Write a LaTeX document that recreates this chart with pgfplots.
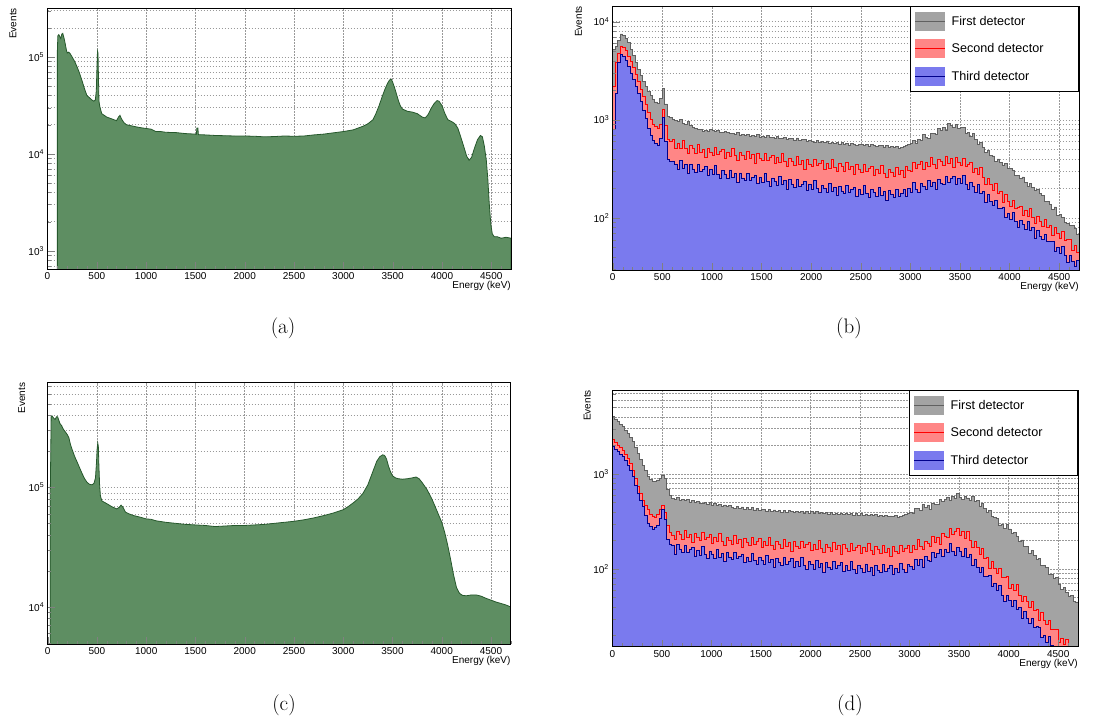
\documentclass[border=0pt]{standalone}
\usepackage{fontspec}
\usepackage{pgfplots}
\usepackage{pgfplotstable}
\pgfplotsset{compat=1.18}
\newfontfamily\helv{Liberation Sans}

\definecolor{gfill}{RGB}{94,142,98}
\definecolor{gline}{RGB}{38,88,44}
\definecolor{grayfill}{RGB}{163,163,163}
\definecolor{grayline}{RGB}{96,96,96}
\definecolor{redfill}{RGB}{255,134,134}
\definecolor{redline}{RGB}{255,0,0}
\definecolor{bluefill}{RGB}{122,122,238}
\definecolor{blueline}{RGB}{0,0,140}

\pgfplotstableread{
x g r b
0 1 1 1
0 5200 2200 790
25 5600 3800 1870
50 6500 4800 3800
75 7500 5600 4600
100 7300 5500 4400
125 6800 5100 4000
150 6100 4400 3500
175 5200 3900 3000
200 4500 3400 2560
225 3800 2900 2200
250 3250 2450 1850
275 2800 2050 1550
300 2450 1720 1260
325 2200 1420 1030
350 1950 1180 820
375 1760 1000 700
400 1600 890 610
425 1520 860 575
450 1460 810 550
475 1650 900 640
500 2100 1280 1050
525 1450 880 600
550 1080 630 390
575 1050 600 375
600 1000 627 380
625 985 505 350
650 960 574 314
675 1010 511 384
700 925 621 318
725 905 512 348
750 960 458 282
775 870 548 353
800 830 505 314
825 815 454 294
850 800 556 349
875 790 462 297
900 760 504 314
925 785 409 332
950 770 514 270
975 800 460 309
1000 780 432 277
1025 755 517 339
1050 775 442 279
1075 745 471 251
1100 750 500 302
1125 765 407 279
1150 735 468 251
1175 720 420 308
1200 730 516 257
1225 712 429 281
1250 742 385 228
1275 700 465 287
1300 708 432 255
1325 688 390 240
1350 712 481 286
1375 680 402 243
1400 695 441 258
1425 672 359 274
1450 702 452 223
1475 668 405 256
1500 682 381 230
1525 658 456 282
1550 690 388 234
1575 662 413 211
1600 660 438 255
1625 645 356 236
1650 678 409 213
1675 640 368 262
1700 652 450 219
1725 662 374 239
1750 632 337 194
1775 648 408 244
1800 640 378 218
1825 622 342 205
1850 652 421 245
1875 612 352 208
1900 628 386 221
1925 632 315 234
1950 598 396 191
1975 618 354 218
2000 605 333 196
2025 592 399 240
2050 612 339 199
2075 588 362 180
2100 598 383 216
2125 582 311 201
2150 608 358 182
2175 578 321 224
2200 592 394 187
2225 572 328 206
2250 588 296 168
2275 565 357 210
2300 582 332 188
2325 562 300 178
2350 578 370 213
2375 552 309 181
2400 572 338 194
2425 558 275 206
2450 548 347 167
2475 566 311 193
2500 560 293 174
2525 542 349 213
2550 556 298 178
2575 538 316 161
2600 555 336 195
2625 542 273 181
2650 532 313 164
2675 552 282 202
2700 545 346 169
2725 528 287 186
2750 542 260 151
2775 522 314 192
2800 535 292 172
2825 518 265 162
2850 530 329 195
2875 508 276 166
2900 520 305 178
2925 532 256 196
2950 545 332 166
2975 555 306 198
3000 570 298 183
3025 617 365 230
3050 572 319 195
3075 634 349 180
3100 621 380 223
3125 707 314 210
3150 658 366 194
3175 647 335 243
3200 727 418 207
3225 718 352 232
3250 709 322 193
3275 807 395 247
3300 772 372 225
3325 828 341 218
3350 783 427 267
3375 911 363 231
3400 876 404 252
3425 828 328 267
3450 903 411 217
3475 811 367 250
3500 832 344 224
3525 827 404 269
3550 724 338 219
3575 743 354 194
3600 679 368 230
3625 721 289 207
3650 630 320 182
3675 562 276 217
3700 582 325 176
3725 522 257 185
3750 468 220 144
3775 492 251 173
3800 429 220 147
3825 428 190 133
3850 374 224 152
3875 399 177 124
3900 368 184 126
3925 340 143 129
3950 362 172 101
3975 316 146 111
4000 317 130 96
4025 307 151 114
4050 271 125 92
4075 270 129 80
4100 250 132 94
4125 261 105 86
4150 231 119 76
4175 209 104 92
4200 226 125 74
4225 202 101 79
4250 191 88 62
4275 197 104 75
4300 177 93 65
4325 169 82 60
4350 147 97 68
4375 148 79 57
4400 137 84 58
4425 121 66 58
4450 129 80 46
4475 106 69 50
4500 108 62 43
4525 101 72 51
4550 90 59 41
4575 88 60 35
4600 84 61 41
4625 84 47 36
4650 78 52 32
4675 68 44 37
4700 68 44 37
4700 1 1 1
}\tabB

\pgfplotstableread{
x g r b
0 1 1 1
0 4000 2300 1950
25 3800 2150 1820
50 3550 2020 1720
75 3350 1900 1620
100 3150 1790 1520
125 2900 1620 1380
150 2680 1460 1240
175 2430 1280 1090
200 2190 1100 940
225 1900 900 760
250 1650 740 625
275 1430 620 530
300 1240 530 455
325 1080 470 370
350 940 420 305
375 870 380 280
400 830 355 262
425 840 345 275
450 865 380 285
475 900 420 340
500 960 470 420
525 900 390 330
550 690 285 205
575 600 245 180
600 555 228 179
625 545 205 144
650 562 247 180
675 528 230 159
700 538 207 149
725 522 255 177
750 545 213 151
775 508 233 160
800 522 189 169
825 498 238 137
850 518 213 157
875 492 200 140
900 495 240 172
925 505 204 143
950 478 217 128
975 498 230 155
1000 472 187 144
1025 488 215 130
1050 462 193 159
1075 482 237 133
1100 458 197 146
1125 472 178 119
1150 452 215 149
1175 470 200 133
1200 448 181 126
1225 438 224 150
1250 460 187 128
1275 432 206 136
1300 450 168 144
1325 428 211 117
1350 444 189 134
1375 422 179 120
1400 440 214 147
1425 418 182 122
1450 434 196 111
1475 414 208 134
1500 420 169 124
1525 428 194 112
1550 408 175 138
1575 422 216 116
1600 404 179 127
1625 418 162 103
1650 400 196 130
1675 414 183 117
1700 398 166 110
1725 412 205 131
1750 396 171 112
1775 410 189 119
1800 400 154 128
1825 393 194 104
1850 406 173 119
1875 390 165 107
1900 404 197 131
1925 388 168 109
1950 402 180 99
1975 386 191 119
2000 401 157 111
2025 388 180 100
2050 400 162 124
2075 383 200 104
2100 396 166 114
2125 382 150 93
2150 393 182 118
2175 380 169 105
2200 391 154 100
2225 378 190 119
2250 389 160 102
2275 376 175 108
2300 387 144 116
2325 374 181 94
2350 385 163 108
2375 372 153 97
2400 383 185 119
2425 370 157 99
2450 381 169 90
2475 368 179 108
2500 386 147 101
2525 370 168 92
2550 380 152 113
2575 366 187 95
2600 376 156 105
2625 364 141 86
2650 372 171 108
2675 360 159 97
2700 370 145 92
2725 358 179 111
2750 368 150 94
2775 356 165 101
2800 362 135 108
2825 354 171 88
2850 366 154 102
2875 352 146 93
2900 360 176 115
2925 370 153 98
2950 374 166 91
2975 386 179 111
3000 394 149 106
3025 387 175 99
3050 433 162 127
3075 432 203 110
3100 416 173 125
3125 475 159 105
3150 441 197 135
3175 472 187 124
3200 423 173 120
3225 493 220 149
3250 475 190 132
3275 479 215 146
3300 535 181 161
3325 512 237 135
3350 542 220 159
3375 573 214 148
3400 528 265 186
3425 577 230 154
3450 557 250 139
3475 629 270 167
3500 567 223 155
3525 536 246 137
3550 586 212 164
3575 560 251 132
3600 529 199 141
3625 580 170 108
3650 519 193 126
3675 523 168 105
3700 458 141 91
3725 487 165 104
3750 436 129 84
3775 398 133 84
3800 411 101 85
3825 359 120 65
3850 350 102 70
3875 342 90 59
3900 291 101 67
3925 298 82 53
3950 270 82 46
3975 294 83 53
4000 264 63 47
4025 235 69 40
4050 244 59 47
4075 220 68 38
4100 193 53 39
4125 202 46 30
4150 174 52 36
4175 172 46 30
4200 147 39 27
4225 157 46 30
4250 139 37 24.5
4275 125 38 24.7
4300 129 29 24
4325 110 35 19
4350 108 29 20
4375 103 26 17
4400 88 29 19.7
4425 88 23 15.5
4450 80 23 13.2
4475 81 23 15
4500 69 17 13
4525 61 18.7 11
4550 64 16 12.4
4575 57 18 10
4600 52 14 10.5
4625 53 12 7.7
4650 46 13.4 8.7
4675 45 11.5 7.4
4700 45 11.5 7.4
4700 1 1 1
}\tabD

\begin{document}
\begin{tikzpicture}
\path[use as bounding box] (0pt,0pt) rectangle (1099pt,718pt);

% ---------------- (a)
\begin{axis}[
  ymode=log, scale only axis,
  at={(47.5pt,449pt)}, anchor=south west, width=463.5pt, height=261pt,
  xmin=0, xmax=4700, ymin=650, ymax=3.2e5,
  axis line style={line width=0.6pt},
  xtick={0,500,1000,1500,2000,2500,3000,3500,4000,4500},
  xticklabels={0,500,1000,1500,2000,2500,3000,3500,4000,4500},
  minor xtick={100,200,300,400,600,700,800,900,1100,1200,1300,1400,1600,1700,1800,1900,2100,2200,2300,2400,2600,2700,2800,2900,3100,3200,3300,3400,3600,3700,3800,3900,4100,4200,4300,4400,4600,4700},
  ytick={1000,10000,100000},
  yticklabels={10\textsuperscript{3},10\textsuperscript{4},10\textsuperscript{5}},
  minor ytick={700,800,900,2000,3000,4000,5000,6000,7000,8000,9000,20000,30000,40000,50000,60000,70000,80000,90000,200000,300000},
  xtick pos=left, ytick pos=left, tick align=inside,
  major tick length=7pt, minor tick length=3.5pt,
  xmajorgrids, ymajorgrids, yminorgrids,
  major grid style={black!40, dash pattern=on 1.5pt off 1.5pt, line width=0.45pt},
  minor grid style={black!40, dash pattern=on 1.5pt off 1.5pt, line width=0.45pt},
  ticklabel style={font=\helv\fontsize{10}{12}\selectfont},
  xlabel={Energy (keV)}, ylabel={Events},
  label style={font=\helv\fontsize{10}{12}\selectfont},
  xlabel style={at={(axis description cs:1,0)}, anchor=north east, yshift=-12pt, inner sep=0pt},
  ylabel style={at={(axis description cs:-0.070,1)}, anchor=east, inner sep=0pt, yshift=2pt},
]
\addplot[fill=gfill, draw=gline, line width=0.8pt] coordinates {
(100,1) (100,1.15e5) (105,1.65e5) (115,1.7e5) (125,1.62e5) (135,1.55e5) (145,1.72e5) (155,1.75e5)
(165,1.6e5) (175,1.45e5) (190,1.2e5) (200,1.1e5) (215,1.12e5) (230,1.08e5) (250,1.0e5) (275,9.0e4)
(300,7.9e4) (325,6.8e4) (350,5.7e4) (375,4.7e4) (400,4.0e4) (425,3.8e4) (450,3.6e4) (470,3.5e4)
(485,3.6e4) (495,4.5e4) (502,8e4) (507,1.15e5) (512,1.1e5) (517,6e4) (522,3.5e4) (530,3.1e4)
(550,2.6e4) (575,2.5e4) (600,2.4e4) (650,2.3e4) (700,2.2e4) (720,2.4e4) (735,2.5e4) (750,2.3e4)
(775,2.1e4) (800,2.0e4) (850,1.95e4) (900,1.9e4) (950,1.86e4) (1000,1.83e4) (1050,1.8e4) (1100,1.7e4)
(1150,1.7e4) (1200,1.67e4) (1300,1.66e4) (1400,1.62e4) (1500,1.6e4) (1510,1.6e4) (1515,1.85e4)
(1525,1.85e4) (1530,1.58e4) (1600,1.57e4) (1700,1.55e4) (1800,1.54e4) (1900,1.53e4) (2000,1.53e4)
(2100,1.52e4) (2200,1.5e4) (2300,1.51e4) (2400,1.53e4) (2500,1.52e4) (2600,1.53e4) (2700,1.57e4)
(2800,1.6e4) (2900,1.65e4) (3000,1.7e4) (3100,1.77e4) (3200,1.93e4) (3250,2.05e4) (3300,2.25e4)
(3330,2.6e4) (3360,3.1e4) (3390,3.8e4) (3420,4.6e4) (3450,5.4e4) (3470,5.8e4) (3485,5.9e4)
(3500,5.5e4) (3520,4.8e4) (3540,4.1e4) (3560,3.5e4) (3580,3.1e4) (3600,2.9e4) (3650,2.75e4)
(3700,2.7e4) (3750,2.6e4) (3800,2.4e4) (3830,2.35e4) (3860,2.55e4) (3890,2.95e4) (3920,3.3e4)
(3950,3.55e4) (3970,3.5e4) (4000,3.15e4) (4030,2.6e4) (4060,2.25e4) (4100,2.15e4) (4130,2.05e4)
(4160,1.85e4) (4190,1.5e4) (4220,1.2e4) (4250,9.5e3) (4275,8.6e3) (4300,9.2e3) (4330,1.15e4)
(4360,1.4e4) (4390,1.55e4) (4410,1.5e4) (4430,1.2e4) (4450,8.5e3) (4465,5.5e3) (4480,3e3)
(4495,1.9e3) (4510,1.5e3) (4530,1.4e3) (4560,1.4e3) (4600,1.35e3) (4650,1.38e3) (4700,1.35e3) (4700,1)
};
\end{axis}
\begin{axis}[
  ymode=log, scale only axis,
  at={(47.5pt,449pt)}, anchor=south west, width=463.5pt, height=261pt,
  xmin=0, xmax=4700, ymin=650, ymax=3.2e5,
  axis line style={line width=0.6pt},
  xtick={0,500,1000,1500,2000,2500,3000,3500,4000,4500}, xticklabels={},
  minor xtick={100,200,300,400,600,700,800,900,1100,1200,1300,1400,1600,1700,1800,1900,2100,2200,2300,2400,2600,2700,2800,2900,3100,3200,3300,3400,3600,3700,3800,3900,4100,4200,4300,4400,4600,4700},
  ytick={1000,10000,100000}, yticklabels={},
  minor ytick={700,800,900,2000,3000,4000,5000,6000,7000,8000,9000,20000,30000,40000,50000,60000,70000,80000,90000,200000,300000},
  xtick pos=left, ytick pos=left, tick align=inside,
  major tick length=7pt, minor tick length=3.5pt,
]
\end{axis}

% ---------------- (b)
\begin{axis}[
  ymode=log, scale only axis,
  at={(612.7pt,448pt)}, anchor=south west, width=466.3pt, height=264pt,
  xmin=0, xmax=4700, ymin=29.4, ymax=1.445e4,
  axis line style={line width=0.6pt},
  xtick={0,500,1000,1500,2000,2500,3000,3500,4000,4500},
  xticklabels={0,500,1000,1500,2000,2500,3000,3500,4000,4500},
  minor xtick={100,200,300,400,600,700,800,900,1100,1200,1300,1400,1600,1700,1800,1900,2100,2200,2300,2400,2600,2700,2800,2900,3100,3200,3300,3400,3600,3700,3800,3900,4100,4200,4300,4400,4600,4700},
  ytick={100,1000,10000},
  yticklabels={10\textsuperscript{2},10\textsuperscript{3},10\textsuperscript{4}},
  minor ytick={30,40,50,60,70,80,90,200,300,400,500,600,700,800,900,2000,3000,4000,5000,6000,7000,8000,9000},
  xtick pos=left, ytick pos=left, tick align=inside,
  major tick length=7pt, minor tick length=3.5pt,
  xmajorgrids, ymajorgrids, yminorgrids,
  major grid style={black!40, dash pattern=on 1.5pt off 1.5pt, line width=0.45pt},
  minor grid style={black!40, dash pattern=on 1.5pt off 1.5pt, line width=0.45pt},
  ticklabel style={font=\helv\fontsize{10}{12}\selectfont},
  xlabel={Energy (keV)}, ylabel={Events},
  label style={font=\helv\fontsize{10}{12}\selectfont},
  xlabel style={at={(axis description cs:1,0)}, anchor=north east, yshift=-12pt, inner sep=0pt},
  ylabel style={at={(axis description cs:-0.069,1)}, anchor=east, inner sep=0pt, yshift=2pt},
  legend style={at={(1,1)}, anchor=north east, draw=black, line width=0.6pt, fill=white,
    font=\helv\fontsize{12.6}{15}\selectfont, inner xsep=5pt, inner ysep=5.5pt, row sep=8.5pt,
    cells={anchor=west}},
  legend image code/.code={
    \fill[#1,draw=none] (0pt,-9.5pt) rectangle (30pt,9.5pt);
    \draw[#1,fill=none] (0pt,0pt) -- (30pt,0pt);
  },
]
\addplot[const plot, fill=grayfill, draw=grayline, line width=0.8pt] table[x=x,y=g] {\tabB};
\addlegendentry{\makebox[124pt][l]{\hspace{4pt}First detector}}
\addplot[const plot, fill=redfill, draw=redline, line width=0.8pt] table[x=x,y=r] {\tabB};
\addlegendentry{\makebox[124pt][l]{\hspace{4pt}Second detector}}
\addplot[const plot, fill=bluefill, draw=blueline, line width=0.8pt] table[x=x,y=b] {\tabB};
\addlegendentry{\makebox[124pt][l]{\hspace{4pt}Third detector}}
\end{axis}
\begin{axis}[
  ymode=log, scale only axis,
  at={(612.7pt,448pt)}, anchor=south west, width=466.3pt, height=264pt,
  xmin=0, xmax=4700, ymin=29.4, ymax=1.445e4,
  axis line style={line width=0.6pt},
  xtick={0,500,1000,1500,2000,2500,3000,3500,4000,4500}, xticklabels={},
  minor xtick={100,200,300,400,600,700,800,900,1100,1200,1300,1400,1600,1700,1800,1900,2100,2200,2300,2400,2600,2700,2800,2900,3100,3200,3300,3400,3600,3700,3800,3900,4100,4200,4300,4400,4600,4700},
  ytick={100,1000,10000}, yticklabels={},
  minor ytick={30,40,50,60,70,80,90,200,300,400,500,600,700,800,900,2000,3000,4000,5000,6000,7000,8000,9000},
  xtick pos=left, ytick pos=left, tick align=inside,
  major tick length=7pt, minor tick length=3.5pt,
]
\end{axis}

% ---------------- (c)
\begin{axis}[
  ymode=log, scale only axis,
  at={(47.7pt,74pt)}, anchor=south west, width=463pt, height=261.3pt,
  xmin=0, xmax=4700, ymin=4900, ymax=7.5e5,
  axis line style={line width=0.6pt},
  xtick={0,500,1000,1500,2000,2500,3000,3500,4000,4500},
  xticklabels={0,500,1000,1500,2000,2500,3000,3500,4000,4500},
  minor xtick={100,200,300,400,600,700,800,900,1100,1200,1300,1400,1600,1700,1800,1900,2100,2200,2300,2400,2600,2700,2800,2900,3100,3200,3300,3400,3600,3700,3800,3900,4100,4200,4300,4400,4600,4700},
  ytick={10000,100000},
  yticklabels={10\textsuperscript{4},10\textsuperscript{5}},
  minor ytick={5000,6000,7000,8000,9000,20000,30000,40000,50000,60000,70000,80000,90000,200000,300000,400000,500000,600000,700000},
  xtick pos=left, ytick pos=left, tick align=inside,
  major tick length=7pt, minor tick length=3.5pt,
  xmajorgrids, ymajorgrids, yminorgrids,
  major grid style={black!40, dash pattern=on 1.5pt off 1.5pt, line width=0.45pt},
  minor grid style={black!40, dash pattern=on 1.5pt off 1.5pt, line width=0.45pt},
  ticklabel style={font=\helv\fontsize{10}{12}\selectfont},
  xlabel={Energy (keV)}, ylabel={Events},
  label style={font=\helv\fontsize{10}{12}\selectfont},
  xlabel style={at={(axis description cs:1,0)}, anchor=north east, yshift=-12pt, inner sep=0pt},
  ylabel style={at={(axis description cs:-0.056,1)}, anchor=east, inner sep=0pt, yshift=0pt},
]
\addplot[fill=gfill, draw=gline, line width=0.8pt] coordinates {
(25,1) (25,7e4) (35,3.9e5) (45,3.95e5) (60,3.8e5) (75,3.7e5) (90,3.9e5) (100,3.9e5) (110,3.7e5)
(125,3.4e5) (140,3.3e5) (160,3.05e5) (180,2.9e5) (200,2.75e5) (215,2.6e5) (230,2.3e5) (250,2.05e5)
(275,1.8e5) (300,1.62e5) (325,1.45e5) (350,1.3e5) (375,1.18e5) (400,1.1e5) (425,1.06e5) (450,1.05e5)
(470,1.08e5) (485,1.2e5) (495,1.6e5) (502,2.1e5) (508,2.35e5) (514,2.2e5) (520,1.5e5) (527,1.05e5)
(535,8.5e4) (550,7.7e4) (575,7.5e4) (600,7.3e4) (650,6.9e4) (700,6.6e4) (725,6.8e4) (745,7.1e4)
(765,6.8e4) (790,6.2e4) (825,6e4) (875,5.8e4) (950,5.6e4) (1000,5.45e4) (1050,5.4e4) (1100,5.25e4)
(1200,5.1e4) (1300,5.0e4) (1400,4.9e4) (1500,4.85e4) (1600,4.8e4) (1700,4.7e4) (1800,4.75e4)
(1900,4.8e4) (2000,4.8e4) (2100,4.85e4) (2200,4.9e4) (2300,5.0e4) (2400,5.1e4) (2500,5.2e4)
(2600,5.35e4) (2700,5.55e4) (2800,5.8e4) (2900,6.1e4) (3000,6.5e4) (3050,6.9e4) (3100,7.4e4)
(3150,8.0e4) (3200,8.9e4) (3250,1.05e5) (3300,1.35e5) (3340,1.65e5) (3370,1.8e5) (3400,1.87e5)
(3420,1.85e5) (3440,1.72e5) (3460,1.5e5) (3480,1.35e5) (3500,1.25e5) (3530,1.2e5) (3560,1.18e5)
(3600,1.17e5) (3650,1.18e5) (3700,1.2e5) (3740,1.22e5) (3770,1.18e5) (3800,1.1e5) (3850,9.6e4)
(3900,8.0e4) (3950,6.4e4) (4000,5.1e4) (4030,4.2e4) (4060,3.3e4) (4090,2.5e4) (4120,1.85e4)
(4150,1.45e4) (4180,1.3e4) (4210,1.25e4) (4250,1.24e4) (4300,1.26e4) (4350,1.26e4) (4400,1.23e4)
(4450,1.18e4) (4500,1.14e4) (4550,1.1e4) (4600,1.07e4) (4650,1.04e4) (4700,1.0e4) (4700,1)
};
\end{axis}
\begin{axis}[
  ymode=log, scale only axis,
  at={(47.7pt,74pt)}, anchor=south west, width=463pt, height=261.3pt,
  xmin=0, xmax=4700, ymin=4900, ymax=7.5e5,
  axis line style={line width=0.6pt},
  xtick={0,500,1000,1500,2000,2500,3000,3500,4000,4500}, xticklabels={},
  minor xtick={100,200,300,400,600,700,800,900,1100,1200,1300,1400,1600,1700,1800,1900,2100,2200,2300,2400,2600,2700,2800,2900,3100,3200,3300,3400,3600,3700,3800,3900,4100,4200,4300,4400,4600,4700},
  ytick={10000,100000}, yticklabels={},
  minor ytick={5000,6000,7000,8000,9000,20000,30000,40000,50000,60000,70000,80000,90000,200000,300000,400000,500000,600000,700000},
  xtick pos=left, ytick pos=left, tick align=inside,
  major tick length=7pt, minor tick length=3.5pt,
]
\end{axis}

% ---------------- (d)
\begin{axis}[
  ymode=log, scale only axis,
  at={(612.3pt,71.3pt)}, anchor=south west, width=465.7pt, height=256.7pt,
  xmin=0, xmax=4700, ymin=15.2, ymax=7660,
  axis line style={line width=0.6pt},
  xtick={0,500,1000,1500,2000,2500,3000,3500,4000,4500},
  xticklabels={0,500,1000,1500,2000,2500,3000,3500,4000,4500},
  minor xtick={100,200,300,400,600,700,800,900,1100,1200,1300,1400,1600,1700,1800,1900,2100,2200,2300,2400,2600,2700,2800,2900,3100,3200,3300,3400,3600,3700,3800,3900,4100,4200,4300,4400,4600,4700},
  ytick={100,1000},
  yticklabels={10\textsuperscript{2},10\textsuperscript{3}},
  minor ytick={20,30,40,50,60,70,80,90,200,300,400,500,600,700,800,900,2000,3000,4000,5000,6000,7000},
  xtick pos=left, ytick pos=left, tick align=inside,
  major tick length=7pt, minor tick length=3.5pt,
  xmajorgrids, ymajorgrids, yminorgrids,
  major grid style={black!40, dash pattern=on 1.5pt off 1.5pt, line width=0.45pt},
  minor grid style={black!40, dash pattern=on 1.5pt off 1.5pt, line width=0.45pt},
  ticklabel style={font=\helv\fontsize{10}{12}\selectfont},
  xlabel={Energy (keV)}, ylabel={Events},
  label style={font=\helv\fontsize{10}{12}\selectfont},
  xlabel style={at={(axis description cs:1,0)}, anchor=north east, yshift=-12pt, inner sep=0pt},
  ylabel style={at={(axis description cs:-0.054,1)}, anchor=east, inner sep=0pt, yshift=0pt},
  legend style={at={(1,1)}, anchor=north east, draw=black, line width=0.6pt, fill=white,
    font=\helv\fontsize{12.6}{15}\selectfont, inner xsep=5pt, inner ysep=5.5pt, row sep=8.5pt,
    cells={anchor=west}},
  legend image code/.code={
    \fill[#1,draw=none] (0pt,-9.5pt) rectangle (30pt,9.5pt);
    \draw[#1,fill=none] (0pt,0pt) -- (30pt,0pt);
  },
]
\addplot[const plot, fill=grayfill, draw=grayline, line width=0.8pt] table[x=x,y=g] {\tabD};
\addlegendentry{\makebox[124pt][l]{\hspace{4pt}First detector}}
\addplot[const plot, fill=redfill, draw=redline, line width=0.8pt] table[x=x,y=r] {\tabD};
\addlegendentry{\makebox[124pt][l]{\hspace{4pt}Second detector}}
\addplot[const plot, fill=bluefill, draw=blueline, line width=0.8pt] table[x=x,y=b] {\tabD};
\addlegendentry{\makebox[124pt][l]{\hspace{4pt}Third detector}}
\end{axis}
\begin{axis}[
  ymode=log, scale only axis,
  at={(612.3pt,71.3pt)}, anchor=south west, width=465.7pt, height=256.7pt,
  xmin=0, xmax=4700, ymin=15.2, ymax=7660,
  axis line style={line width=0.6pt},
  xtick={0,500,1000,1500,2000,2500,3000,3500,4000,4500}, xticklabels={},
  minor xtick={100,200,300,400,600,700,800,900,1100,1200,1300,1400,1600,1700,1800,1900,2100,2200,2300,2400,2600,2700,2800,2900,3100,3200,3300,3400,3600,3700,3800,3900,4100,4200,4300,4400,4600,4700},
  ytick={100,1000}, yticklabels={},
  minor ytick={20,30,40,50,60,70,80,90,200,300,400,500,600,700,800,900,2000,3000,4000,5000,6000,7000},
  xtick pos=left, ytick pos=left, tick align=inside,
  major tick length=7pt, minor tick length=3.5pt,
]
\end{axis}

\node[font=\fontsize{21}{24}\selectfont] at (283pt,390pt) {(a)};
\node[font=\fontsize{21}{24}\selectfont] at (849pt,390pt) {(b)};
\node[font=\fontsize{21}{24}\selectfont] at (284pt,12.5pt) {(c)};
\node[font=\fontsize{21}{24}\selectfont] at (850pt,12.5pt) {(d)};
\end{tikzpicture}
\end{document}
